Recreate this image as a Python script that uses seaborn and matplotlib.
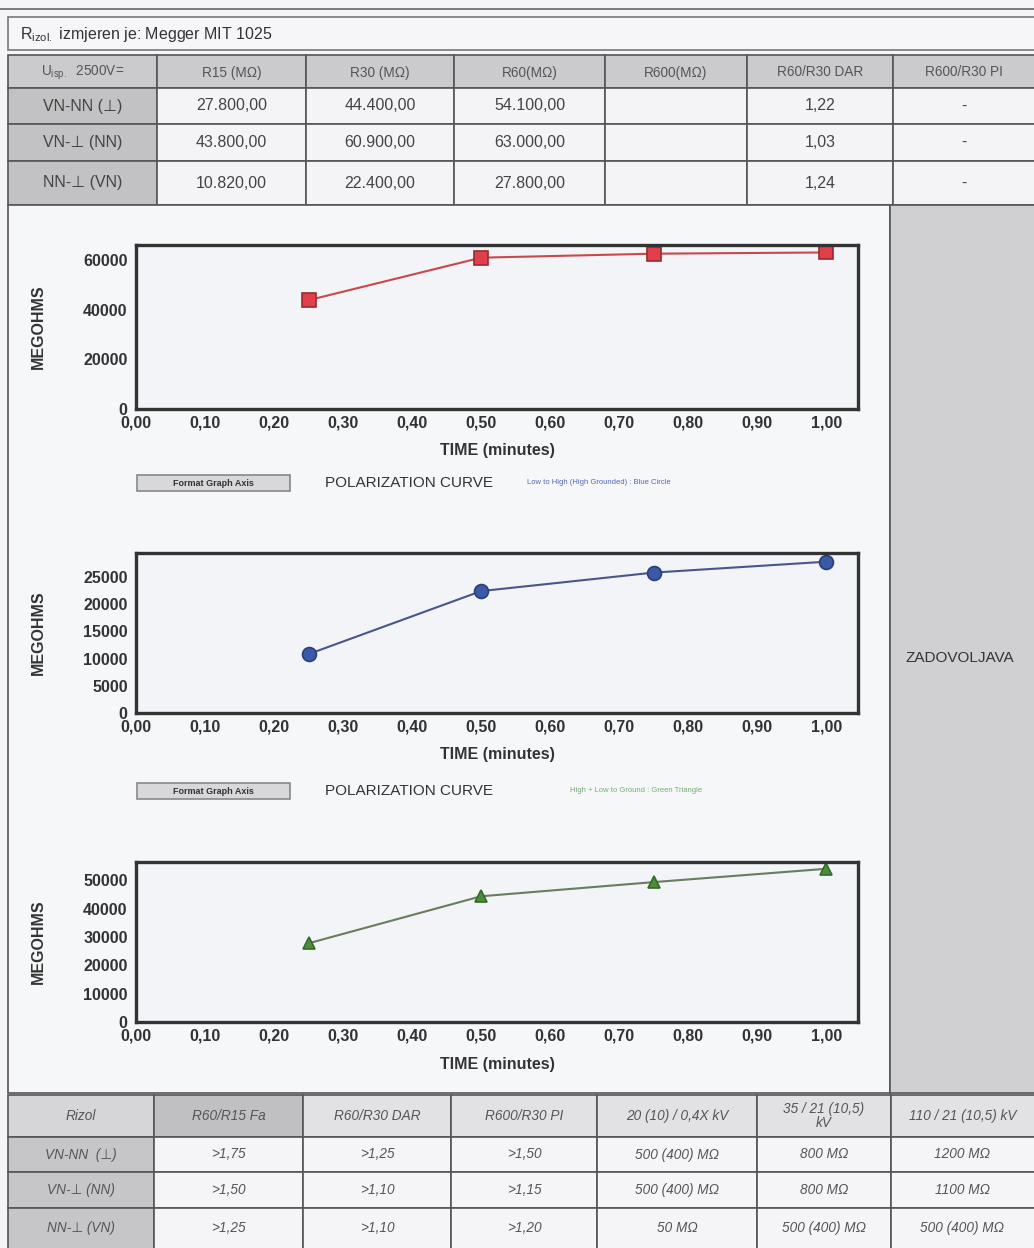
import numpy as np
import pandas as pd
import matplotlib
matplotlib.use("Agg")
import matplotlib.pyplot as plt
from matplotlib.patches import Rectangle
import seaborn as sns

# ---------------- data ----------------
time_min = [0.25, 0.50, 0.75, 1.00]
red_vals = [43800, 60900, 62500, 63000]      # VN-⊥ (NN) : red square
blue_vals = [10820, 22400, 25800, 27800]     # NN-⊥ (VN) : blue circle
green_vals = [27800, 44400, 49400, 54100]    # VN-NN (⊥) : green triangle

x_ticks = [0.0, 0.1, 0.2, 0.3, 0.4, 0.5, 0.6, 0.7, 0.8, 0.9, 1.0]
y_ticks_1 = [0, 20000, 40000, 60000]
y_ticks_2 = [0, 5000, 10000, 15000, 20000, 25000]
y_ticks_3 = [0, 10000, 20000, 30000, 40000, 50000]

top_headers = ["U$\\mathregular{_{isp.}}$  2500V=", "R15 (MΩ)", "R30 (MΩ)", "R60(MΩ)",
               "R600(MΩ)", "R60/R30 DAR", "R600/R30 PI"]
row_labels = ["VN-NN (⊥)", "VN-⊥ (NN)", "NN-⊥ (VN)"]
r15 = [27800.0, 43800.0, 10820.0]
r30 = [44400.0, 60900.0, 22400.0]
r60 = [54100.0, 63000.0, 27800.0]
r600 = ["", "", ""]
dar = [1.22, 1.03, 1.24]
pi_ = ["-", "-", "-"]

bot_headers = ["Rizol", "R60/R15 Fa", "R60/R30 DAR", "R600/R30 PI",
               "20 (10) / 0,4X kV", "35 / 21 (10,5)\nkV", "110 / 21 (10,5) kV"]
bot_rows = ["VN-NN  (⊥)", "VN-⊥ (NN)", "NN-⊥ (VN)"]
bot_fa = [">1,75", ">1,50", ">1,25"]
bot_dar = [">1,25", ">1,10", ">1,10"]
bot_pi = [">1,50", ">1,15", ">1,20"]
bot_20kv = ["500 (400) MΩ", "500 (400) MΩ", "50 MΩ"]
bot_35kv = ["800 MΩ", "800 MΩ", "500 (400) MΩ"]
bot_110kv = ["1200 MΩ", "1100 MΩ", "500 (400) MΩ"]

verdict = "ZADOVOLJAVA"

# ---------------- style ----------------
sns.set_style("white")
plt.rcParams["font.family"] = ["Liberation Sans", "DejaVu Sans"]
plt.rcParams["mathtext.fontset"] = "custom"
plt.rcParams["mathtext.rm"] = "Liberation Sans"

W, H = 1034, 1248
fig = plt.figure(figsize=(W / 100, H / 100), dpi=100)
PAGE = "#f5f5f7"
fig.patch.set_facecolor(PAGE)


def fx(x):
    return x / W


def fy(y):
    return 1 - y / H


def rect(x0, y0, x1, y1, fc, ec="#555555", lw=1.0, z=-2):
    fig.patches.append(Rectangle((fx(x0), fy(y1)), (x1 - x0) / W, (y1 - y0) / H,
                                 transform=fig.transFigure, fc=fc, ec=ec, lw=lw, zorder=z))


def txt(x, y, s, size=11, ha="center", color="#444444", **kw):
    fig.text(fx(x), fy(y), s, ha=ha, va="center", fontsize=size, color=color, zorder=10, **kw)


def hr(v):
    s = f"{v:,.2f}"
    return s.replace(",", "X").replace(".", ",").replace("X", ".")


# top cut-off rule
fig.add_artist(plt.Line2D([0, 1], [fy(9), fy(9)], transform=fig.transFigure, color="#666", lw=1.2))

# instrument box
rect(8, 17, 1040, 50, "#f6f6f8", ec="#777777", lw=1.2)
txt(20, 34, "R$\\mathregular{_{izol.}}$ izmjeren je: Megger MIT 1025", size=11.5, ha="left", color="#333")

# ---------------- top table ----------------
tcols = [8, 157, 306, 454, 605, 747, 893, 1040]
trows = [55, 88, 124, 161, 205]
for j in range(7):
    rect(tcols[j], trows[0], tcols[j + 1], trows[1], "#cbcbcd", ec="#555", lw=1.2)
    xc = (tcols[j] + (tcols[j + 1] if j < 6 else 1034)) / 2
    txt(xc, (trows[0] + trows[1]) / 2 + 1, top_headers[j], size=9.8, color="#555")
cols_data = [
    [hr(v) for v in r15],
    [hr(v) for v in r30],
    [hr(v) for v in r60],
    r600,
    [f"{v:.2f}".replace(".", ",") for v in dar],
    pi_,
]
for i in range(3):
    y0, y1 = trows[i + 1], trows[i + 2]
    rect(tcols[0], y0, tcols[1], y1, "#c2c2c4", ec="#555", lw=1.2)
    txt((tcols[0] + tcols[1]) / 2, (y0 + y1) / 2, row_labels[i], size=11.5, color="#444")
    for j in range(6):
        rect(tcols[j + 1], y0, tcols[j + 2], y1, "#f4f4f6", ec="#555", lw=1.2)
        xc = (tcols[j + 1] + (tcols[j + 2] if j < 5 else 1034)) / 2
        txt(xc, (y0 + y1) / 2, cols_data[j][i], size=11.5, color="#444")

# ---------------- middle block ----------------
rect(8, 205, 890, 1093, "#f6f7f9", ec="#555", lw=1.2)
rect(890, 205, 1040, 1093, "#d0d0d2", ec="#555", lw=1.2)
txt(960, 658, verdict, size=11, color="#333")

axes_boxes = [(136, 245, 858, 409), (136, 553, 858, 713), (136, 862, 858, 1022)]
series = [
    (red_vals, y_ticks_1, 66000, "s", "#c8484c", "#e0404c", "#9a2a30", 10),
    (blue_vals, y_ticks_2, 29400, "o", "#4a5688", "#3a5aa8", "#2a3e78", 10),
    (green_vals, y_ticks_3, 56500, "^", "#6a7c60", "#4c8c3c", "#346a2a", 8),
]

for (x0, y0, x1, y1), (vals, yt, ymax, mk, lc, mfc, mec, ms) in zip(axes_boxes, series):
    ax = fig.add_axes([fx(x0), fy(y1), (x1 - x0) / W, (y1 - y0) / H])
    ax.set_zorder(5)
    ax.set_facecolor("#f3f4f8")
    df = pd.DataFrame({"t": time_min, "v": vals})
    sns.lineplot(data=df, x="t", y="v", ax=ax, color=lc, lw=1.5, marker=mk,
                 markersize=ms, markerfacecolor=mfc, markeredgecolor=mec, markeredgewidth=1.2,
                 clip_on=False)
    ax.set_xlim(0, 1.046)
    ax.set_ylim(0, ymax)
    ax.set_xticks(x_ticks)
    ax.set_xticklabels([f"{v:.2f}".replace(".", ",") for v in x_ticks])
    ax.set_yticks(yt)
    ax.set_yticklabels([str(v) for v in yt])
    ax.tick_params(axis="y", direction="in", length=13, width=1.4, color="#444",
                   labelsize=11.5, pad=6, labelcolor="#333")
    ax.tick_params(axis="x", direction="in", length=9, width=1.0, color="#888",
                   labelsize=11.5, pad=5, labelcolor="#333")
    for lab in ax.get_xticklabels() + ax.get_yticklabels():
        lab.set_fontweight("bold")
    for sp in ax.spines.values():
        sp.set_visible(True)
        sp.set_linewidth(2.4)
        sp.set_color("#333")
    ax.set_xlabel("")
    ax.set_ylabel("")
    txt(38, (y0 + y1) / 2, "MEGOHMS", size=11.5, color="#333", rotation=90, fontweight="bold")
    txt(497, y1 + 42, "TIME (minutes)", size=11.5, color="#333", fontweight="bold")

# legend/button rows
for yb, note, ncol, nx in [(483, "Low to High (High Grounded) : Blue Circle", "#5566b8", 527),
                           (791, "High + Low to Ground : Green Triangle", "#78a878", 570)]:
    rect(137, yb - 8, 290, yb + 8, "#d8d8da", ec="#888", lw=1.2, z=2)
    txt(213, yb, "Format Graph Axis", size=6.5, color="#333", fontweight="bold")
    txt(325, yb, "POLARIZATION CURVE", size=11, ha="left", color="#333")
    txt(nx, yb - 1, note, size=5.5, ha="left", color=ncol)

# ---------------- bottom table ----------------
bcols = [8, 154, 303, 451, 597, 757, 891, 1040]
brows = [1095, 1137, 1172, 1208, 1252]
hdr_fc = ["#d6d6d8", "#c0c0c2", "#e2e2e4", "#e2e2e4", "#e2e2e4", "#e2e2e4", "#e2e2e4"]
for j in range(7):
    rect(bcols[j], brows[0], bcols[j + 1], brows[1], hdr_fc[j], ec="#555", lw=1.2)
    xc = (bcols[j] + (bcols[j + 1] if j < 6 else 1034)) / 2
    txt(xc, (brows[0] + brows[1]) / 2, bot_headers[j], size=9.8, color="#555",
        style="italic", linespacing=0.95)
bcols_data = [bot_fa, bot_dar, bot_pi, bot_20kv, bot_35kv, bot_110kv]
for i in range(3):
    y0, y1 = brows[i + 1], brows[i + 2]
    yc = (y0 + min(y1, 1248)) / 2
    rect(bcols[0], y0, bcols[1], y1, "#c6c6c8", ec="#555", lw=1.2)
    txt((bcols[0] + bcols[1]) / 2, yc, bot_rows[i], size=9.8, color="#555", style="italic")
    for j in range(6):
        rect(bcols[j + 1], y0, bcols[j + 2], y1, "#f5f5f7", ec="#555", lw=1.2)
        xc = (bcols[j + 1] + (bcols[j + 2] if j < 5 else 1034)) / 2
        txt(xc, yc, bcols_data[j][i], size=9.8, color="#555", style="italic")

fig.savefig("out.png", dpi=100, facecolor=fig.get_facecolor())
